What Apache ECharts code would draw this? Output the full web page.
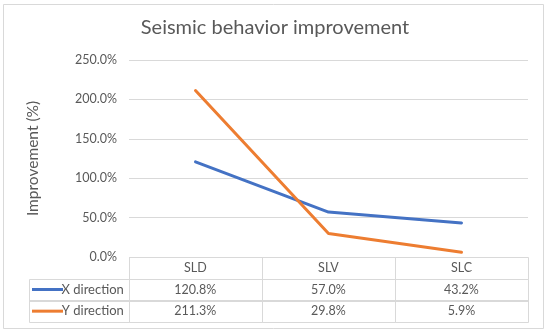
<!DOCTYPE html>
<html>
<head>
<meta charset="utf-8">
<script src="https://cdn.jsdelivr.net/npm/echarts@6/dist/echarts.min.js"></script>
<style>html,body{margin:0;padding:0;background:#fff}#c{width:550px;height:336px}</style>
</head>
<body>
<div id="c"></div>
<script>
var categories = ['SLD', 'SLV', 'SLC'];
var seriesNames = ['X direction', 'Y direction'];
var xDirection = [120.8, 57.0, 43.2];
var yDirection = [211.3, 29.8, 5.9];
var yTicks = [0, 50, 100, 150, 200, 250];
var colors = ['#4472c4', '#ed7d31'];
var FONT = 'Lato, "Open Sans", sans-serif';
var TXT = '#595959';

function fmt(v) { return v.toFixed(1) + '%'; }

// table cells built from the arrays: [x0, x1, row, text, markerColorIndex]
var LEG = 0.75;
var cells = [];
categories.forEach(function (c, i) { cells.push([i, i + 1, 0, c, -1]); });
[xDirection, yDirection].forEach(function (arr, s) {
  cells.push([-LEG, 0, s + 1, seriesNames[s], s]);
  arr.forEach(function (v, i) { cells.push([i, i + 1, s + 1, fmt(v), -1]); });
});

var chart = echarts.init(document.getElementById('c'), null, {renderer: 'canvas'});
chart.setOption({
  backgroundColor: '#fff',
  animation: false,
  title: {
    text: 'Seismic behavior improvement',
    left: 'center',
    top: 13,
    textStyle: {fontFamily: FONT, fontSize: 20, fontWeight: 'normal', color: TXT}
  },
  graphic: [{
    type: 'rect', shape: {x: 3.5, y: 4.5, width: 540, height: 324},
    style: {fill: 'none', stroke: '#d9d9d9', lineWidth: 1}, z: 0, silent: true
  }],
  grid: [
    {left: 129, right: 22, top: 60, bottom: 79},
    {left: 29, right: 22, top: 257, height: 65}
  ],
  xAxis: [
    {type: 'category', gridIndex: 0, data: categories, boundaryGap: true,
     axisLine: {show: false}, axisTick: {show: false}, axisLabel: {show: false}, splitLine: {show: false}},
    {type: 'value', gridIndex: 1, min: -LEG, max: categories.length, show: false}
  ],
  yAxis: [
    {type: 'value', gridIndex: 0, min: yTicks[0], max: yTicks[yTicks.length - 1], interval: 50,
     name: 'Improvement (%)', nameLocation: 'middle', nameGap: 88,
     nameTextStyle: {fontFamily: FONT, fontSize: 15.5, color: TXT},
     axisLine: {show: false}, axisTick: {show: false},
     axisLabel: {formatter: function (v) { return fmt(v); }, fontFamily: FONT, fontSize: 12.5, color: TXT, margin: 12},
     splitLine: {lineStyle: {color: '#d9d9d9', width: 1}}},
    {type: 'value', gridIndex: 1, min: 0, max: 3, inverse: true, show: false}
  ],
  series: [
    {name: seriesNames[0], type: 'line', xAxisIndex: 0, yAxisIndex: 0, data: xDirection,
     symbol: 'none', lineStyle: {color: colors[0], width: 3, cap: 'round', join: 'round'}, z: 3},
    {name: seriesNames[1], type: 'line', xAxisIndex: 0, yAxisIndex: 0, data: yDirection,
     symbol: 'none', lineStyle: {color: colors[1], width: 3, cap: 'round', join: 'round'}, z: 4},
    {type: 'custom', xAxisIndex: 1, yAxisIndex: 1, data: cells,
     encode: {x: [0, 1], y: 2},
     renderItem: function (params, api) {
       var x0 = api.value(0), x1 = api.value(1), r = api.value(2);
       var txt = cells[params.dataIndex][3];
       var m = cells[params.dataIndex][4];
       var p0 = api.coord([x0, r]), p1 = api.coord([x1, r + 1]);
       var w = p1[0] - p0[0], h = p1[1] - p0[1];
       var children = [{
         type: 'rect',
         shape: {x: Math.round(p0[0]) + 0.5, y: Math.round(p0[1]) + 0.5, width: Math.round(w), height: Math.round(h)},
         style: {fill: 'none', stroke: '#d9d9d9', lineWidth: 1}
       }];
       var cy = p0[1] + h / 2;
       if (m >= 0) {
         children.push({type: 'line', shape: {x1: p0[0] + 3, y1: cy, x2: p0[0] + 34, y2: cy},
           style: {stroke: colors[m], lineWidth: 3}});
         children.push({type: 'text', style: {text: txt, x: p1[0] - 5, y: cy, align: 'right', verticalAlign: 'middle',
           fill: TXT, font: '13px ' + FONT}});
       } else {
         children.push({type: 'text', style: {text: txt, x: p0[0] + w / 2, y: cy, align: 'center', verticalAlign: 'middle',
           fill: TXT, font: '12.5px ' + FONT}});
       }
       return {type: 'group', children: children};
     }, z: 2}
  ]
});
</script>
</body>
</html>
